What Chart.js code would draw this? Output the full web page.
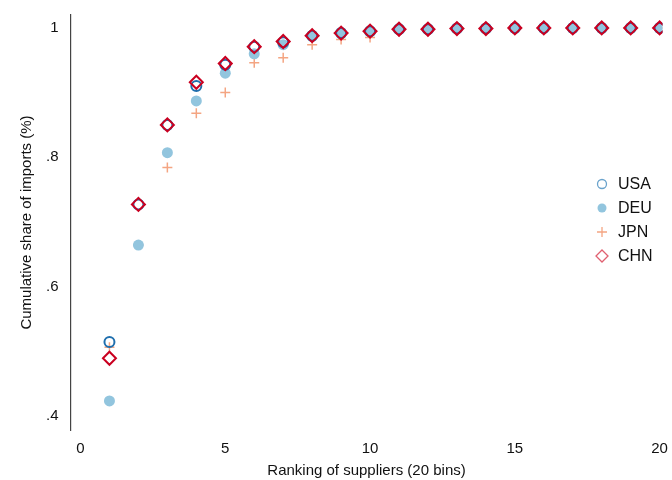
<!DOCTYPE html>
<html><head><meta charset="utf-8">
<script src="https://cdn.jsdelivr.net/npm/chart.js@4"></script>
<style>body{margin:0;background:#fff}#wrap{width:672px;height:480px}</style>
</head><body>
<div id="wrap"><canvas id="c"></canvas></div>
<script>
var ranks = [1,2,3,4,5,6,7,8,9,10,11,12,13,14,15,16,17,18,19,20];
var usa = [0.514,0.727,0.850,0.910,0.943,0.971,0.978,0.988,0.992,0.995,0.998,0.998,0.999,0.999,1,1,1,1,1,1];
var deu = [0.423,0.664,0.807,0.887,0.930,0.960,0.974,0.987,0.991,0.994,0.998,0.998,0.999,0.999,1,1,1,1,1,1];
var jpn = [0.506,0.664,0.784,0.868,0.900,0.946,0.954,0.974,0.982,0.985,0.997,0.998,0.999,0.999,1,1,1,1,1,1];
var chn = [0.489,0.727,0.850,0.916,0.945,0.971,0.979,0.988,0.992,0.995,0.998,0.998,0.999,0.999,1,1,1,1,1,1];
var yTicks = [0.4,0.6,0.8,1];

function pts(v){ return v.map(function(y,i){ return {x: ranks[i], y: y}; }); }

var series = [
  {label:'USA', data:pts(usa), pointStyle:'circle', pointRadius:5, pointBorderWidth:2, borderColor:'#1f6fae', backgroundColor:'rgba(0,0,0,0)', order:2},
  {label:'DEU', data:pts(deu), pointStyle:'circle', pointRadius:5.5, pointBorderWidth:0, borderColor:'#92c5de', backgroundColor:'#92c5de', order:3},
  {label:'JPN', data:pts(jpn), pointStyle:'cross', pointRadius:5, pointBorderWidth:1.5, borderColor:'#f4a582', backgroundColor:'#f4a582', order:4},
  {label:'CHN', data:pts(chn), pointStyle:'rectRot', pointRadius:6.5, pointBorderWidth:2, borderColor:'#ca0020', backgroundColor:'rgba(0,0,0,0)', order:1}
];

var legendColors = {USA:'#6aa3cc', DEU:'#92c5de', JPN:'#f4a582', CHN:'#e06070'};
var legendPlugin = {
  id: 'insideLegend',
  afterDraw: function(chart){
    var ctx = chart.ctx, x = 602, y = 184;
    ctx.save();
    ctx.font = '16px "Liberation Sans", Arial, sans-serif';
    ctx.textBaseline = 'middle';
    series.forEach(function(s, i){
      var yy = y + i*24, c = legendColors[s.label];
      ctx.strokeStyle = c; ctx.fillStyle = c; ctx.lineWidth = 1.3;
      ctx.beginPath();
      if (s.label === 'USA') { ctx.arc(x, yy, 4.5, 0, Math.PI*2); ctx.stroke(); }
      else if (s.label === 'DEU') { ctx.arc(x, yy, 4.5, 0, Math.PI*2); ctx.fill(); }
      else if (s.label === 'JPN') { ctx.moveTo(x-5,yy); ctx.lineTo(x+5,yy); ctx.moveTo(x,yy-5); ctx.lineTo(x,yy+5); ctx.stroke(); }
      else { ctx.moveTo(x,yy-6); ctx.lineTo(x+6,yy); ctx.lineTo(x,yy+6); ctx.lineTo(x-6,yy); ctx.closePath(); ctx.stroke(); }
      ctx.fillStyle = '#111';
      ctx.fillText(s.label, x + 16, yy + 1);
    });
    ctx.restore();
  }
};

Chart.defaults.font.family = '"Liberation Sans", Arial, sans-serif';
Chart.defaults.color = '#111';
new Chart(document.getElementById('c'), {
  type: 'scatter',
  data: { datasets: series },
  options: {
    responsive: true, maintainAspectRatio: false, animation: false,
    layout: { padding: { top: 10, right: 0, left: 14, bottom: 0 } },
    plugins: { legend: { display: false }, tooltip: { enabled: false } },
    scales: {
      x: {
        type: 'linear', min: -0.345, max: 20.1,
        afterBuildTicks: function(ax){ ax.ticks = [0,5,10,15,20].map(function(v){ return {value:v}; }); },
        grid: { display: false, drawTicks: true, tickLength: 6, color: '#444' },
        border: { display: false },
        ticks: { font: { size: 15 }, padding: 4, callback: function(v){ return v; } },
        title: { display: true, text: 'Ranking of suppliers (20 bins)', font: { size: 15 }, padding: { top: 0, bottom: 0 } }
      },
      y: {
        min: 0.378, max: 1.02,
        afterBuildTicks: function(ax){ ax.ticks = yTicks.map(function(v){ return {value:v}; }); },
        grid: { display: false, tickLength: 6 },
        border: { display: true, color: '#444', width: 1.2 },
        ticks: { font: { size: 15 }, padding: 6, callback: function(v){ return v === 1 ? '1' : String(v).replace(/^0/, ''); } },
        title: { display: true, text: 'Cumulative share of imports (%)', font: { size: 15 }, padding: { bottom: 4 } }
      }
    }
  },
  plugins: [legendPlugin]
});
</script>
</body></html>
